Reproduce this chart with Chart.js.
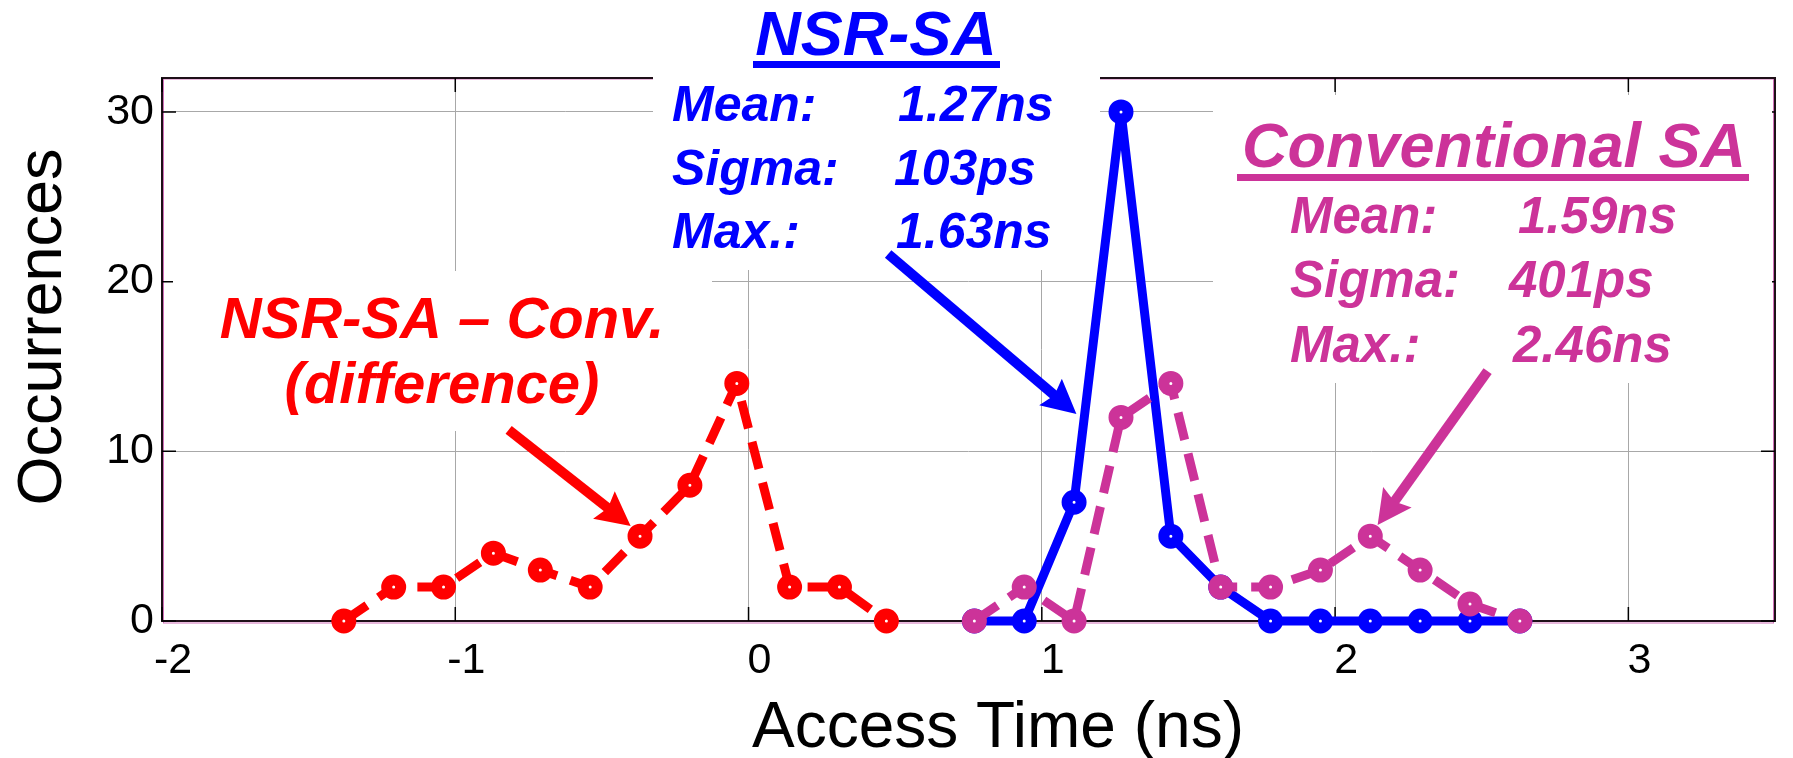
<!DOCTYPE html>
<html>
<head>
<meta charset="utf-8">
<title>Access Time Distribution</title>
<script src="https://cdn.jsdelivr.net/npm/chart.js@4.4.0/dist/chart.umd.min.js"></script>
<style>
    html, body { margin: 0; padding: 0; background: #fff; }
</style>
</head>
<body>
<canvas id="chart" width="1793" height="758"></canvas>
<script>
// Histogram data: bin centres (ns) and counts per bin
const diffTimes = [-1.38, -1.21, -1.04, -0.87, -0.71, -0.54, -0.37, -0.20, -0.04, 0.14, 0.31, 0.47];
const diffCounts = [0, 2, 2, 4, 3, 2, 5, 8, 14, 2, 2, 0];
const saTimes = [0.77, 0.94, 1.11, 1.27, 1.44, 1.61, 1.78, 1.95, 2.12, 2.29, 2.46, 2.63];
const nsrCounts = [0, 0, 7, 30, 5, 2, 0, 0, 0, 0, 0, 0];
const convCounts = [0, 2, 0, 12, 14, 2, 2, 3, 5, 3, 1, 0];

// Axis ticks
const xTicks = [-2, -1, 0, 1, 2, 3];
const yTicks = [0, 10, 20, 30];

// Colours and fonts
const RED = '#ff0000';
const BLUE = '#0000ff';
const MAGENTA = '#cc3399';
const GRID = '#a8a8a8';
const FONT = 'Arial, "Liberation Sans", sans-serif';

// Annotation arrows, in data coordinates
const arrows = [
    { from: [-0.818, 11.26], to: [-0.402, 5.6], color: RED },
    { from: [0.476, 21.63], to: [1.118, 12.2], color: BLUE },
    { from: [2.52, 14.73], to: [2.145, 5.66], color: MAGENTA }
];

// White boxes behind the annotation text (pixels)
const textBoxes = [
    { x: 653, y: 0, w: 447, h: 270 },
    { x: 1213, y: 95, w: 559, h: 288 },
    { x: 173, y: 271, w: 539, h: 160 }
];

function points(xs, ys) {
    return xs.map((x, i) => ({ x: x, y: ys[i] }));
}

function seriesStyle(color, dashed) {
    return {
        borderColor: color,
        borderWidth: 9,
        borderDash: dashed ? [28, 14] : [],
        borderJoinStyle: 'round',
        pointRadius: 7,
        pointBorderWidth: 11,
        pointBorderColor: color,
        pointBackgroundColor: '#ffffff',
        pointHoverRadius: 7,
        tension: 0,
        fill: false,
        clip: false
    };
}

function drawText(ctx, text, x, y, size, color, align, style) {
    ctx.font = (style || 'italic bold') + ' ' + size + 'px ' + FONT;
    ctx.fillStyle = color;
    ctx.textAlign = align || 'left';
    ctx.textBaseline = 'alphabetic';
    ctx.fillText(text, x, y);
}

function drawArrow(ctx, x1, y1, x2, y2, color) {
    const shaft = 10, headLen = 34, headW = 35;
    const ang = Math.atan2(y2 - y1, x2 - x1);
    const len = Math.hypot(x2 - x1, y2 - y1);
    ctx.save();
    ctx.translate(x1, y1);
    ctx.rotate(ang);
    ctx.fillStyle = color;
    ctx.fillRect(0, -shaft / 2, len - headLen * 0.8, shaft);
    ctx.beginPath();
    ctx.moveTo(len, 0);
    ctx.lineTo(len - headLen, -headW / 2);
    ctx.lineTo(len - headLen * 0.85, 0);
    ctx.lineTo(len - headLen, headW / 2);
    ctx.closePath();
    ctx.fill();
    ctx.restore();
}

// Frame, inward ticks and text backgrounds (under the data)
// then arrows, labels and axis titles (over the data)
const annotationPlugin = {
    id: 'annotations',
    beforeDatasetsDraw(chart) {
        const ctx = chart.ctx;
        const a = chart.chartArea;
        const xs = chart.scales.x, ys = chart.scales.y;
        ctx.save();

        // axes box
        ctx.strokeStyle = '#d070b8';
        ctx.lineWidth = 1;
        ctx.strokeRect(a.left + 1.5, a.top + 1, a.right - a.left - 3, a.bottom - a.top + 1);
        ctx.strokeStyle = '#1e1018';
        ctx.lineWidth = 2;
        ctx.strokeRect(a.left, a.top, a.right - a.left, a.bottom - a.top);

        // inward tick marks
        const tick = 14;
        ctx.strokeStyle = '#000';
        ctx.lineWidth = 1.5;
        ctx.beginPath();
        xTicks.forEach(v => {
            const px = xs.getPixelForValue(v);
            ctx.moveTo(px, a.bottom); ctx.lineTo(px, a.bottom - tick);
            ctx.moveTo(px, a.top); ctx.lineTo(px, a.top + tick);
        });
        yTicks.forEach(v => {
            const py = ys.getPixelForValue(v);
            ctx.moveTo(a.left, py); ctx.lineTo(a.left + tick, py);
            ctx.moveTo(a.right, py); ctx.lineTo(a.right - tick, py);
        });
        ctx.stroke();

        // text backgrounds
        ctx.fillStyle = '#ffffff';
        textBoxes.forEach(b => ctx.fillRect(b.x, b.y, b.w, b.h));
        ctx.restore();
    },
    afterDatasetsDraw(chart) {
        const ctx = chart.ctx;
        const xs = chart.scales.x, ys = chart.scales.y;
        ctx.save();

        arrows.forEach(ar => {
            drawArrow(ctx,
                xs.getPixelForValue(ar.from[0]), ys.getPixelForValue(ar.from[1]),
                xs.getPixelForValue(ar.to[0]), ys.getPixelForValue(ar.to[1]),
                ar.color);
        });

        // NSR-SA block
        drawText(ctx, 'NSR-SA', 876, 55, 63, BLUE, 'center');
        ctx.fillStyle = BLUE;
        ctx.fillRect(753, 61, 247, 7);
        drawText(ctx, 'Mean:', 672, 121, 50, BLUE);
        drawText(ctx, 'Sigma:', 672, 185, 50, BLUE);
        drawText(ctx, 'Max.:', 672, 248, 50, BLUE);
        drawText(ctx, '1.27ns', 898, 121, 50, BLUE);
        drawText(ctx, '103ps', 894, 185, 50, BLUE);
        drawText(ctx, '1.63ns', 896, 248, 50, BLUE);

        // Conventional SA block
        drawText(ctx, 'Conventional SA', 1494, 167, 63, MAGENTA, 'center');
        ctx.fillStyle = MAGENTA;
        ctx.fillRect(1237, 174, 512, 7);
        drawText(ctx, 'Mean:', 1290, 233, 51, MAGENTA);
        drawText(ctx, 'Sigma:', 1290, 297, 51, MAGENTA);
        drawText(ctx, 'Max.:', 1290, 362, 51, MAGENTA);
        drawText(ctx, '1.59ns', 1518, 233, 51, MAGENTA);
        drawText(ctx, '401ps', 1509, 297, 51, MAGENTA);
        drawText(ctx, '2.46ns', 1513, 362, 51, MAGENTA);

        // difference label
        drawText(ctx, 'NSR-SA \u2013 Conv.', 442, 338, 58, RED, 'center');
        drawText(ctx, '(difference)', 442, 403, 58, RED, 'center');

        // axis titles
        drawText(ctx, 'Access Time (ns)', 998, 747, 64, '#000', 'center', 'normal');
        ctx.translate(61, 327);
        ctx.rotate(-Math.PI / 2);
        drawText(ctx, 'Occurrences', 0, 0, 63, '#000', 'center', 'normal');
        ctx.restore();
    }
};

const chart = new Chart(document.getElementById('chart'), {
    type: 'line',
    data: {
        datasets: [
            Object.assign({ label: 'NSR-SA \u2013 Conv.', data: points(diffTimes, diffCounts), order: 1 }, seriesStyle(RED, true)),
            Object.assign({ label: 'Conventional SA', data: points(saTimes, convCounts), order: 2 }, seriesStyle(MAGENTA, true)),
            Object.assign({ label: 'NSR-SA', data: points(saTimes, nsrCounts), order: 3 }, seriesStyle(BLUE, false))
        ]
    },
    options: {
        responsive: false,
        animation: false,
        devicePixelRatio: 1,
        layout: {
            padding: { top: 78, right: 3, left: 0, bottom: 0 }
        },
        scales: {
            x: {
                type: 'linear',
                min: -2,
                max: 3.5,
                afterBuildTicks: s => { s.ticks = xTicks.map(v => ({ value: v })); },
                afterFit: s => { s.height = 137; },
                grid: { color: GRID, lineWidth: 1, drawTicks: false },
                border: { display: false },
                ticks: {
                    color: '#000',
                    font: { size: 43, family: FONT },
                    padding: 14,
                    labelOffset: 11,
                    maxRotation: 0,
                    autoSkip: false,
                    callback: v => String(v)
                }
            },
            y: {
                min: 0,
                max: 32,
                afterBuildTicks: s => { s.ticks = yTicks.map(v => ({ value: v })); },
                afterFit: s => { s.width = 162; },
                grid: { color: GRID, lineWidth: 1, drawTicks: false },
                border: { display: false },
                ticks: {
                    color: '#000',
                    font: { size: 43, family: FONT },
                    padding: 8,
                    autoSkip: false,
                    callback: v => String(v)
                }
            }
        },
        plugins: {
            legend: { display: false },
            tooltip: { enabled: false }
        }
    },
    plugins: [annotationPlugin]
});
</script>
</body>
</html>
